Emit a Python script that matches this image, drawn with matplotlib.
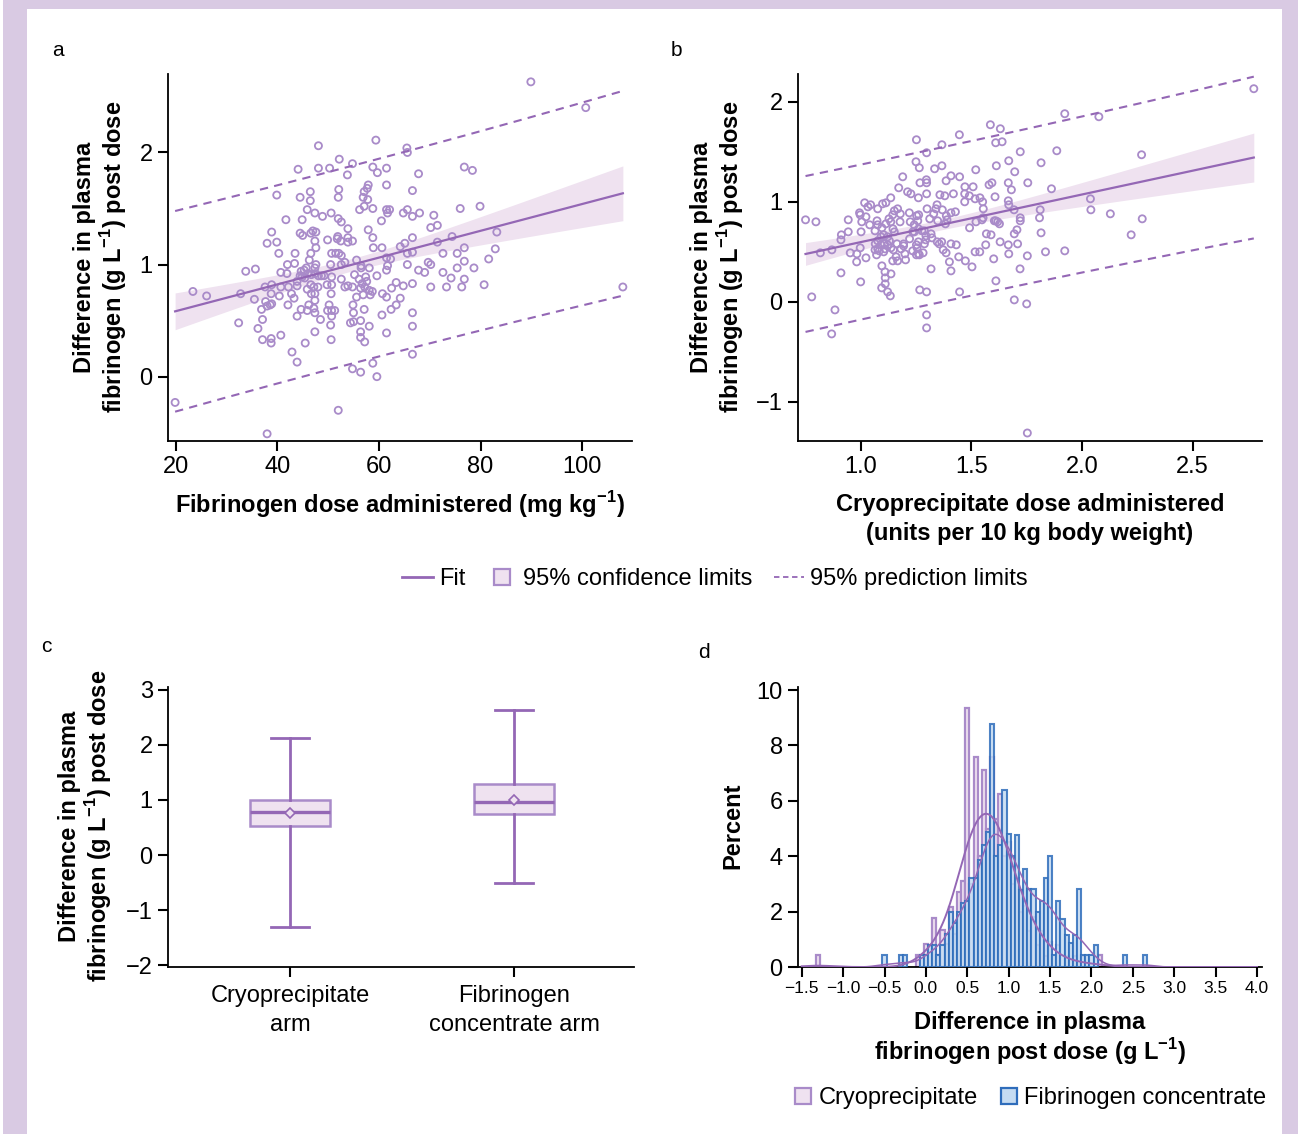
import numpy as np
import matplotlib.pyplot as plt
from matplotlib.lines import Line2D
from matplotlib.patches import Rectangle
from matplotlib.ticker import FuncFormatter

plt.rcParams['font.family'] = ['Liberation Sans', 'DejaVu Sans']
plt.rcParams['mathtext.fontset'] = 'custom'
plt.rcParams['mathtext.rm'] = 'Liberation Sans'
plt.rcParams['mathtext.bf'] = 'Liberation Sans:bold'

# panel a: fibrinogen dose (mg/kg) vs change in plasma fibrinogen (g/L)
a_dose = [48.1, 59.4, 44.1, 48.1, 50.3, 52.2, 54.8, 53.8, 58.8, 59.7, 61.5, 39.9, 44.5, 46.5, 46.5,
          45.9, 47.4, 48.9, 50.6, 52.1, 52.0, 57.9, 57.7, 57.1, 56.9, 57.8, 57.1, 56.2, 58.8, 61.5,
          61.5, 62.1, 61.7, 60.5, 52.0, 52.6, 53.9, 41.7, 44.9, 38.9, 38.0, 39.9, 40.3, 44.5, 45.0,
          46.6, 47.0, 47.6, 47.4, 47.6, 46.6, 46.3, 43.5, 43.4, 42.0, 41.9, 40.7, 49.9, 51.9, 51.8,
          52.5, 53.9, 54.8, 53.9, 57.9, 58.8, 58.9, 60.6, 50.7, 51.5, 52.1, 52.6, 50.5, 52.6, 53.3,
          55.6, 56.5, 58.1, 56.5, 55.2, 56.1, 57.4, 59.6, 57.6, 56.7, 56.4, 57.2, 58.1, 58.7, 58.3,
          56.9, 55.6, 54.9, 55.0, 55.0, 54.4, 57.1, 56.4, 58.1, 56.4, 56.4, 57.2, 61.5, 61.7, 61.5,
          62.3, 47.6, 47.4, 47.5, 48.1, 49.2, 48.7, 45.7, 45.3, 44.7, 44.5, 44.9, 45.4, 46.7, 46.0,
          43.9, 43.9, 42.2, 40.7, 38.9, 37.6, 38.8, 40.4, 42.8, 43.3, 42.1, 45.9, 46.6, 47.2, 48.0,
          46.7, 47.4, 47.4, 46.2, 45.9, 47.2, 47.4, 44.7, 43.9, 48.5, 47.4, 45.5, 42.9, 43.9, 49.8,
          50.7, 50.7, 52.6, 53.3, 53.9, 54.8, 50.6, 50.2, 50.7, 49.9, 51.3, 50.7, 50.5, 50.6, 37.7,
          38.6, 36.9, 38.0, 38.9, 37.1, 36.2, 37.1, 38.8, 38.8, 40.7, 35.5, 32.8, 33.8, 35.7, 32.4,
          23.4, 26.1, 19.9, 38.0, 52.0, 54.8, 56.4, 58.8, 59.6, 60.7, 61.5, 62.5, 63.4, 62.4, 60.6,
          63.4, 61.5, 89.9, 100.7, 65.5, 65.6, 76.8, 78.4, 67.8, 66.6, 64.8, 65.6, 66.6, 68.0, 70.8,
          70.2, 71.5, 76.0, 79.9, 83.2, 74.4, 71.5, 66.6, 65.1, 64.2, 65.6, 66.6, 72.6, 75.4, 76.8,
          82.9, 81.6, 76.8, 65.6, 69.7, 70.2, 67.8, 69.0, 72.6, 74.2, 75.4, 78.7, 76.8, 76.3, 73.3,
          70.2, 66.6, 64.8, 80.7, 64.2, 66.6, 66.6, 66.6, 108.0]
a_diff = [2.06, 2.11, 1.85, 1.86, 1.86, 1.94, 1.90, 1.80, 1.87, 1.82, 1.86, 1.62, 1.60, 1.65, 1.57,
          1.49, 1.46, 1.43, 1.46, 1.67, 1.60, 1.71, 1.68, 1.65, 1.60, 1.58, 1.52, 1.49, 1.50, 1.71,
          1.49, 1.49, 1.46, 1.39, 1.41, 1.38, 1.32, 1.40, 1.40, 1.29, 1.19, 1.20, 1.10, 1.28, 1.26,
          1.28, 1.30, 1.29, 1.21, 1.15, 1.10, 1.04, 1.10, 1.01, 1.00, 0.92, 0.93, 1.22, 1.25, 1.23,
          1.21, 1.24, 1.21, 1.20, 1.31, 1.24, 1.15, 1.15, 1.10, 1.10, 1.10, 1.08, 1.00, 1.00, 1.02,
          1.04, 0.99, 0.97, 0.97, 0.91, 0.87, 0.89, 0.90, 0.85, 0.83, 0.79, 0.80, 0.77, 0.76, 0.73,
          0.73, 0.71, 0.64, 0.57, 0.49, 0.48, 0.60, 0.50, 0.45, 0.40, 0.35, 0.31, 1.06, 0.99, 0.95,
          1.05, 1.00, 0.97, 0.92, 0.90, 0.90, 0.90, 0.97, 0.95, 0.94, 0.90, 0.89, 0.88, 0.91, 0.92,
          0.85, 0.81, 0.80, 0.80, 0.82, 0.80, 0.74, 0.72, 0.74, 0.70, 0.64, 0.78, 0.82, 0.80, 0.80,
          0.74, 0.74, 0.68, 0.64, 0.59, 0.61, 0.57, 0.60, 0.54, 0.51, 0.40, 0.30, 0.22, 0.13, 0.82,
          0.82, 0.89, 0.87, 0.80, 0.81, 0.80, 0.74, 0.64, 0.59, 0.59, 0.59, 0.54, 0.46, 0.33, 0.67,
          0.64, 0.60, 0.63, 0.65, 0.51, 0.43, 0.33, 0.34, 0.30, 0.37, 0.69, 0.74, 0.94, 0.96, 0.48,
          0.76, 0.72, -0.23, -0.51, -0.30, 0.07, 0.04, 0.12, 0.00, 0.74, 0.71, 0.79, 0.84, 0.60, 0.55,
          0.64, 0.39, 2.63, 2.40, 2.04, 2.00, 1.87, 1.84, 1.81, 1.66, 1.46, 1.49, 1.43, 1.46, 1.44,
          1.33, 1.35, 1.50, 1.52, 1.29, 1.25, 1.20, 1.24, 1.19, 1.16, 1.10, 1.11, 1.10, 1.10, 1.15,
          1.14, 1.05, 1.03, 1.00, 1.02, 1.00, 0.95, 0.93, 0.93, 0.88, 0.97, 0.97, 0.87, 0.80, 0.80,
          0.80, 0.83, 0.81, 0.82, 0.70, 0.57, 0.45, 0.20, 0.80]

# panel b: cryoprecipitate dose (units per 10 kg) vs change in plasma fibrinogen (g/L)
b_dose = [1.586, 1.631, 1.610, 1.639, 1.446, 1.367, 1.252, 1.298, 1.721, 1.250, 1.265, 1.334, 1.367,
          1.190, 1.172, 1.212, 1.227, 1.268, 1.297, 1.298, 1.386, 1.408, 1.447, 1.520, 1.613, 1.669,
          1.696, 1.755, 1.667, 1.681, 1.580, 1.593, 1.471, 1.508, 1.261, 1.298, 1.358, 1.380, 1.419,
          1.470, 1.491, 1.470, 1.517, 1.539, 1.607, 1.667, 1.669, 1.693, 1.721, 1.721, 1.619, 1.604,
          1.627, 1.548, 1.521, 1.492, 1.554, 1.551, 1.553, 1.345, 1.340, 1.330, 1.369, 1.408, 1.428,
          1.387, 1.390, 1.383, 1.348, 1.312, 1.300, 1.262, 1.253, 1.258, 1.224, 1.242, 1.220, 1.136,
          1.114, 1.099, 1.077, 1.045, 1.018, 1.033, 0.995, 0.998, 1.024, 1.005, 1.041, 1.074, 1.077,
          1.065, 1.096, 1.114, 1.128, 1.152, 1.167, 1.179, 1.145, 1.136, 1.178, 1.146, 1.122, 1.092,
          1.104, 1.077, 1.066, 1.092, 1.107, 1.122, 1.130, 1.152, 1.164, 1.194, 1.194, 1.221, 1.236,
          1.261, 1.277, 1.288, 1.295, 1.294, 1.288, 1.261, 1.242, 1.318, 1.322, 1.346, 1.366, 1.355,
          1.373, 1.386, 1.408, 1.432, 1.443, 1.473, 1.401, 1.408, 1.503, 1.517, 1.538, 1.565, 1.568,
          1.589, 1.610, 1.630, 1.667, 1.669, 1.709, 1.694, 1.706, 1.601, 1.611, 1.694, 1.750, 1.753,
          1.720, 0.751, 0.798, 0.944, 0.913, 0.911, 0.944, 1.002, 0.998, 0.953, 0.983, 0.982, 1.024,
          1.072, 1.084, 1.065, 1.077, 1.104, 1.110, 1.148, 1.160, 1.145, 1.167, 1.203, 1.200, 1.235,
          1.252, 1.261, 1.282, 1.255, 1.265, 0.818, 0.870, 0.911, 1.000, 0.779, 0.884, 0.869, 1.096,
          1.110, 1.137, 1.111, 1.111, 1.095, 1.122, 1.134, 1.318, 1.267, 1.298, 1.298, 1.298, 1.447,
          1.252, 1.182, 1.137, 1.753, 2.776, 1.922, 2.076, 1.886, 1.815, 2.269, 1.862, 2.038, 2.040,
          2.128, 1.811, 1.808, 2.272, 1.815, 2.222, 1.835, 1.922]
b_diff = [1.77, 1.73, 1.59, 1.60, 1.67, 1.57, 1.62, 1.49, 1.50, 1.40, 1.34, 1.33, 1.36, 1.25, 1.14,
          1.10, 1.08, 1.19, 1.22, 1.19, 1.21, 1.26, 1.25, 1.32, 1.36, 1.41, 1.30, 1.19, 1.19, 1.12,
          1.17, 1.19, 1.15, 1.15, 1.04, 1.08, 1.07, 1.06, 1.08, 1.08, 1.06, 1.00, 1.03, 1.04, 1.05,
          1.01, 0.97, 0.92, 0.84, 0.81, 0.80, 0.81, 0.78, 0.82, 0.80, 0.74, 0.93, 1.00, 0.84, 0.97,
          0.93, 0.88, 0.92, 0.89, 0.90, 0.86, 0.82, 0.78, 0.81, 0.83, 0.93, 0.87, 0.86, 0.81, 0.80,
          0.77, 0.89, 1.04, 0.99, 0.98, 0.93, 0.97, 0.99, 0.95, 0.89, 0.87, 0.85, 0.80, 0.77, 0.81,
          0.77, 0.71, 0.74, 0.78, 0.83, 0.91, 0.93, 0.88, 0.87, 0.80, 0.80, 0.73, 0.65, 0.65, 0.67,
          0.61, 0.58, 0.57, 0.58, 0.57, 0.61, 0.70, 0.58, 0.58, 0.56, 0.63, 0.70, 0.73, 0.71, 0.71,
          0.66, 0.62, 0.58, 0.60, 0.70, 0.68, 0.64, 0.60, 0.60, 0.58, 0.52, 0.49, 0.58, 0.57, 0.45,
          0.41, 0.40, 0.31, 0.35, 0.50, 0.50, 0.57, 0.68, 0.67, 0.81, 0.60, 0.57, 0.48, 0.58, 0.68,
          0.72, 0.43, 0.21, 0.02, -0.02, 0.46, 0.33, 0.82, 0.80, 0.82, 0.67, 0.62, 0.70, 0.70, 0.54,
          0.49, 0.48, 0.40, 0.44, 0.47, 0.51, 0.52, 0.53, 0.50, 0.53, 0.52, 0.45, 0.41, 0.41, 0.42,
          0.48, 0.51, 0.47, 0.48, 0.49, 0.54, 0.47, 0.49, 0.52, 0.29, 0.20, 0.05, -0.08, -0.32, 0.36,
          0.30, 0.28, 0.24, 0.18, 0.14, 0.10, 0.06, 0.33, 0.12, 0.10, -0.13, -0.26, 0.10, 0.57, 0.53,
          0.54, -1.31, 2.13, 1.88, 1.85, 1.51, 1.39, 1.47, 1.13, 1.03, 0.92, 0.88, 0.92, 0.84, 0.83,
          0.69, 0.67, 0.50, 0.51]

# panel c: box plot summaries (g/L)
arms = ['Cryoprecipitate\narm', 'Fibrinogen\nconcentrate arm']
box_q1 = [0.52, 0.74]
box_med = [0.79, 0.97]
box_q3 = [1.00, 1.29]
box_lo = [-1.31, -0.50]
box_hi = [2.13, 2.64]
box_mean = [0.77, 1.00]

# panel d: histogram, bin centres (g/L, width 0.05) and percent per bin
cryo_bins = [-1.30, -0.10, 0.00, 0.10, 0.15, 0.20, 0.25, 0.30, 0.35, 0.40, 0.45, 0.50, 0.55, 0.60,
             0.65, 0.70, 0.75, 0.80, 0.85, 0.90, 0.95, 1.00, 1.05, 1.10, 1.15, 1.20, 1.25, 1.30,
             1.35, 1.40, 1.45, 1.50, 1.60, 1.70, 1.80, 1.90, 2.10]
cryo_pct = [0.42, 0.42, 0.84, 1.77, 0.42, 1.33, 0.84, 2.17, 1.2, 2.69, 3.1, 9.36, 3.0, 7.57,
            4.0, 7.13, 5.0, 7.57, 5.36, 6.24, 4.0, 4.5, 3.0, 3.2, 2.0, 2.2, 1.3, 1.8,
            0.8, 1.3, 0.4, 0.9, 0.8, 0.4, 0.4, 0.4, 0.42]
fc_bins = [-0.50, -0.30, -0.25, -0.05, 0.00, 0.05, 0.10, 0.15, 0.20, 0.25, 0.30, 0.35, 0.40, 0.45,
           0.50, 0.55, 0.60, 0.65, 0.70, 0.75, 0.80, 0.85, 0.90, 0.95, 1.00, 1.05, 1.10, 1.15,
           1.20, 1.25, 1.30, 1.35, 1.40, 1.45, 1.50, 1.55, 1.60, 1.65, 1.70, 1.75, 1.80, 1.85,
           1.90, 1.95, 2.00, 2.05, 2.40, 2.65]
fc_pct = [0.42, 0.42, 0.42, 0.42, 0.42, 0.8, 0.8, 0.42, 0.8, 1.2, 2.0, 1.6, 2.0, 2.3,
          2.4, 3.2, 3.2, 3.86, 4.4, 4.88, 8.76, 4.0, 4.4, 6.39, 4.8, 4.0, 4.78, 2.77,
          3.55, 2.8, 2.8, 2.0, 2.4, 3.2, 4.0, 0.42, 2.4, 1.75, 1.14, 0.87, 1.14, 2.8,
          0.42, 0.42, 0.42, 0.8, 0.42, 0.42]

purple = '#9467b5'
mark_col = '#a98bc9'
light = '#efe2f0'
blue_edge = '#2f6dbb'
blue_fill = '#c6dcf2'
frame_col = '#d9cae3'

W, H = 1298, 1134
fig = plt.figure(figsize=(W / 100, H / 100), dpi=100)

# lavender frame around white panel
fig.patches.append(Rectangle((3 / W, 0), 1 - 3 / W, 1, transform=fig.transFigure,
                             facecolor=frame_col, edgecolor='none', zorder=-10))
fig.patches.append(Rectangle((27 / W, 0), (1282 - 27) / W, 1 - 9 / H, transform=fig.transFigure,
                             facecolor='white', edgecolor='none', zorder=-9))

LAB = 17
TICK = 17


def px_axes(l, t, r, b):
    return fig.add_axes([l / W, 1 - b / H, (r - l) / W, (b - t) / H])


def ftext(x, y, s, **kw):
    fig.text(x / W, 1 - y / H, s, **kw)


def style(ax, size=TICK):
    for s in ['top', 'right']:
        ax.spines[s].set_visible(False)
    for s in ['left', 'bottom']:
        ax.spines[s].set_linewidth(1.3)
    ax.tick_params(direction='out', length=7, width=1.5, labelsize=size, pad=4)
    ax.patch.set_alpha(0)


def fit_bands(x, y):
    x = np.asarray(x)
    y = np.asarray(y)
    n = len(x)
    b1, b0 = np.polyfit(x, y, 1)
    s = np.sqrt(np.sum((y - b0 - b1 * x) ** 2) / (n - 2))
    xm = x.mean()
    sxx = np.sum((x - xm) ** 2)
    xs = np.linspace(x.min(), x.max(), 200)
    yhat = b0 + b1 * xs
    ci = 1.97 * s * np.sqrt(1 / n + (xs - xm) ** 2 / sxx)
    pi = 1.97 * s * np.sqrt(1 + 1 / n + (xs - xm) ** 2 / sxx)
    return xs, yhat, ci, pi


def scatter_panel(ax, x, y):
    xs, yhat, ci, pi = fit_bands(x, y)
    ax.fill_between(xs, yhat - ci, yhat + ci, color=light, lw=0, zorder=1)
    ax.plot(xs, yhat, color=purple, lw=1.6, zorder=3)
    ax.plot(xs, yhat + pi, color=purple, lw=1.5, ls=(0, (4, 3)), zorder=3)
    ax.plot(xs, yhat - pi, color=purple, lw=1.5, ls=(0, (4, 3)), zorder=3)
    ax.scatter(x, y, s=26, facecolors='none', edgecolors=mark_col, linewidths=1.3, zorder=2)


ylab = 'Difference in plasma\nfibrinogen (g L$^{\\mathbf{-1}}$) post dose'

# a
ax_a = px_axes(168, 74, 632, 441)
scatter_panel(ax_a, a_dose, a_diff)
ax_a.set_xlim(18.5, 109.8)
ax_a.set_ylim(-0.574, 2.70)
ax_a.set_xticks([20, 40, 60, 80, 100])
ax_a.set_yticks([0, 1, 2])
style(ax_a)
ftext(58, 50, 'a', fontsize=15, ha='center', va='center')
ftext(101, 257, ylab, rotation=90, fontsize=LAB, fontweight='bold', ha='center', va='center',
      linespacing=1.05)
ftext(400, 505, 'Fibrinogen dose administered (mg kg$^{\\mathbf{-1}}$)', fontsize=LAB,
      fontweight='bold', ha='center', va='center')

# b
ax_b = px_axes(798, 74, 1262, 441)
scatter_panel(ax_b, b_dose, b_diff)
ax_b.set_xlim(0.717, 2.813)
ax_b.set_ylim(-1.39, 2.277)
ax_b.set_xticks([1.0, 1.5, 2.0, 2.5])
ax_b.set_yticks([-1, 0, 1, 2])
style(ax_b)
ftext(676, 50, 'b', fontsize=15, ha='center', va='center')
ftext(718, 257, ylab, rotation=90, fontsize=LAB, fontweight='bold', ha='center', va='center',
      linespacing=1.05)
ftext(1030, 519, 'Cryoprecipitate dose administered\n(units per 10 kg body weight)', fontsize=LAB,
      fontweight='bold', ha='center', va='center', linespacing=1.3)

fig.legend(handles=[Line2D([], [], color=purple, lw=2),
                    Line2D([], [], marker='s', ms=12, mfc=light, mec=mark_col, mew=1.6, ls='none'),
                    Line2D([], [], color=purple, lw=1.3, ls=(0, (3, 2)))],
           labels=['Fit', '95% confidence limits', '95% prediction limits'],
           loc='center', bbox_to_anchor=(715 / W, 1 - 579 / H), ncol=3, frameon=False,
           fontsize=17, handlelength=1.3, handletextpad=0.25, columnspacing=0.9)

# c
ax_c = px_axes(168, 687, 634, 967)
stats = []
for i in range(2):
    stats.append(dict(med=box_med[i], q1=box_q1[i], q3=box_q3[i], whislo=box_lo[i],
                      whishi=box_hi[i], mean=box_mean[i], fliers=[]))
ax_c.bxp(stats, positions=[0, 1], widths=0.357, capwidths=0.17, showmeans=True, patch_artist=True,
         boxprops=dict(facecolor=light, edgecolor=mark_col, lw=1.8),
         medianprops=dict(color=purple, lw=2.4),
         whiskerprops=dict(color=purple, lw=2),
         capprops=dict(color=purple, lw=2),
         meanprops=dict(marker='D', ms=5, mfc=light, mec=purple, mew=1.2))
ax_c.set_xlim(-0.545, 1.536)
ax_c.set_ylim(-2.03, 3.05)
ax_c.set_yticks([-2, -1, 0, 1, 2, 3])
ax_c.set_xticks([0, 1])
ax_c.set_xticklabels(arms, linespacing=1.4)
style(ax_c)
ax_c.tick_params(axis='x', pad=6)
ftext(46, 646, 'c', fontsize=15, ha='center', va='center')
ftext(86, 826, ylab, rotation=90, fontsize=LAB, fontweight='bold', ha='center', va='center',
      linespacing=1.05)

# d
ax_d = px_axes(798, 687, 1262, 967)
ax_d.bar(cryo_bins, cryo_pct, width=0.05, facecolor=light, edgecolor=mark_col, lw=1.6, zorder=2)
ax_d.bar(fc_bins, fc_pct, width=0.05, facecolor=blue_fill, edgecolor=blue_edge, lw=1.5,
         alpha=0.85, zorder=3)
grid = np.linspace(-1.5, 4.0, 600)


def smooth(centers, pct, bw):
    c = np.asarray(centers)
    w = np.asarray(pct) / np.sum(pct) * 100
    k = np.exp(-0.5 * ((grid[:, None] - c[None, :]) / bw) ** 2) / (bw * np.sqrt(2 * np.pi))
    return (k * w).sum(1) * 0.05


ax_d.plot(grid, smooth(cryo_bins, cryo_pct, 0.18), color=purple, lw=1.4, zorder=4)
ax_d.plot(grid, smooth(fc_bins, fc_pct, 0.115), color=purple, lw=1.1, zorder=4)
ax_d.set_xlim(-1.545, 4.06)
ax_d.set_ylim(0, 10.11)
ax_d.set_xticks(np.arange(-1.5, 4.01, 0.5))
ax_d.xaxis.set_major_formatter(FuncFormatter(lambda v, p: ('%.1f' % v).replace('-', '\u2212')))
ax_d.set_yticks([0, 2, 4, 6, 8, 10])
style(ax_d)
ax_d.tick_params(axis='x', labelsize=12.5, pad=3)
ftext(704, 652, 'd', fontsize=15, ha='center', va='center')
ftext(733, 826, 'Percent', rotation=90, fontsize=LAB, fontweight='bold', ha='center', va='center')
ftext(1030, 1039, 'Difference in plasma\nfibrinogen post dose (g L$^{\\mathbf{-1}}$)', fontsize=LAB,
      fontweight='bold', ha='center', va='center', linespacing=1.05)
fig.legend(handles=[Line2D([], [], marker='s', ms=12, mfc=light, mec=mark_col, mew=1.6, ls='none'),
                    Line2D([], [], marker='s', ms=12, mfc=blue_fill, mec=blue_edge, mew=1.6, ls='none')],
           labels=['Cryoprecipitate', 'Fibrinogen concentrate'],
           loc='center', bbox_to_anchor=(1030 / W, 1 - 1098 / H), ncol=2, frameon=False,
           fontsize=17, handlelength=0.8, handletextpad=0.25, columnspacing=0.9)

fig.savefig('out.png', dpi=100)
